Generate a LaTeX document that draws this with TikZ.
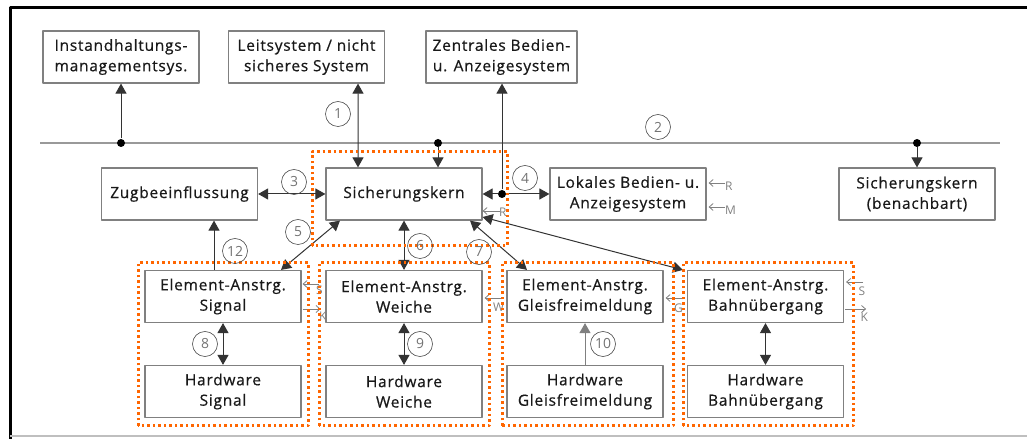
\documentclass[tikz,border=0pt]{standalone}
\usepackage{fontspec}
\setmainfont{Open Sans}
\newfontfamily\blockfont{Open Sans}[FakeBold=0.6,LetterSpace=5]
\usepackage{tikz}
\usetikzlibrary{arrows.meta,shapes}

\definecolor{zonecol}{rgb}{1.0,0.4,0.0}
\definecolor{boxcol}{rgb}{0.5,0.5,0.5}
\definecolor{tagcol}{rgb}{0.5,0.5,0.5}

\begin{document}
\begin{tikzpicture}[>={Triangle[length=10bp,width=11bp]},line join=bevel,
  block/.style={draw=boxcol,line width=1.2bp,minimum width=156bp,minimum height=52bp,inner sep=0pt,align=center,text=black!90,font=\blockfont\fontsize{15.5}{20.5}\selectfont},
  num/.style={draw=black!70,circle,line width=0.6bp,minimum size=25bp,inner sep=0pt,text=black!55,font=\fontsize{14}{14}\selectfont},
  zone/.style={draw=zonecol,line width=3bp,dash pattern=on 2.5bp off 3bp},
  link/.style={draw=black!80,line width=1bp},
  tag/.style={draw=tagcol,line width=0.8bp,-{Straight Barb[length=4bp,width=7bp]}},
  taglbl/.style={text=tagcol,inner sep=0pt,font=\fontsize{12}{12}\selectfont},
  bus/.style={draw=black!40,line width=2bp},
  hub/.style={circle,fill=black,inner sep=0pt,minimum size=8bp}]
  \pgfsetlinewidth{1bp}
  \useasboundingbox (0bp,0bp) rectangle (1027bp,439bp);
%%
  % Frame
  \draw[line width=3bp] (10bp,0bp) -- (10bp,431bp) -- (1027bp,431bp);
  \draw[black!25,line width=1.5bp] (10bp,3bp) -- (1027bp,3bp);
  % Node: inst
  \node[block] (inst) at (121bp,382bp) {Instandhaltungs-\\managementsys.};
  % Node: leit
  \node[block] (leit) at (306.5bp,382bp) {Leitsystem / nicht\\sicheres System};
  % Node: zentral
  \node[block,minimum width=151bp] (zentral) at (501.5bp,382bp) {Zentrales Bedien-\\u. Anzeigesystem};
  % Node: zug
  \node[block] (zug) at (179.5bp,245bp) {Zugbeeinflussung};
  % Node: sk
  \node[block] (sk) at (404bp,245bp) {Sicherungskern};
  % Node: lokal
  \node[block] (lokal) at (628bp,245bp) {Lokales Bedien- u.\\Anzeigesystem};
  % Node: nachbar
  \node[block] (nachbar) at (917bp,245bp) {Sicherungskern\\(benachbart)};
  % Node: esig, hsig
  \node[block] (esig) at (223bp,142.5bp) {Element-Anstrg.\\Signal};
  \node[block] (hsig) at (223bp,47.5bp) {Hardware\\Signal};
  % Node: eweiche, hweiche
  \node[block] (eweiche) at (404bp,142.5bp) {Element-Anstrg.\\Weiche};
  \node[block] (hweiche) at (404bp,47.5bp) {Hardware\\Weiche};
  % Node: egfm, hgfm
  \node[block] (egfm) at (585bp,142.5bp) {Element-Anstrg.\\Gleisfreimeldung};
  \node[block] (hgfm) at (585bp,47.5bp) {Hardware\\Gleisfreimeldung};
  % Node: ebue, hbue
  \node[block] (ebue) at (765.5bp,142.5bp) {Element-Anstrg.\\Bahnübergang};
  \node[block] (hbue) at (765.5bp,47.5bp) {Hardware\\Bahnübergang};
  % Bus
  \coordinate (busL) at (40bp,296bp);
  \coordinate (busR) at (1000bp,296bp);
  \draw[bus] (busL) -- (busR);
  \node[hub] (d1) at (121bp,296bp) {};
  \node[hub] (d2) at (438bp,296bp) {};
  \node[hub] (d3) at (917bp,296bp) {};
  \node[hub] (d4) at (502bp,245bp) {};
  % Edge: bus -> inst
  \draw[link,->] (d1) -- (inst.south);
  % Edge: leit <-> sk
  \draw[link,<->] ([xshift=51.5bp]leit.south) -- ([xshift=-46bp]sk.north);
  % Edge: bus -> sk
  \draw[link,->] (d2) -- (d2 |- sk.north);
  % Edge: bus -> nachbar
  \draw[link,->] (d3) -- (nachbar.north);
  % Edge: zug <-> sk
  \draw[link,<->] (zug.east) -- (sk.west);
  % Edge: d4 -> zentral, sk, lokal
  \draw[link,->] (d4) -- (d4 |- zentral.south);
  \draw[link,->] (d4) -- (sk.east);
  \draw[link,->] (d4) -- (lokal.west);
  % Edge: esig -> zug
  \draw[link,->] ([xshift=-9bp]esig.north) -- ([xshift=-9bp]esig.north |- zug.south);
  % Edge: esig <-> sk
  \draw[link,<->] ([xshift=58bp]esig.north) -- ([xshift=-64bp]sk.south);
  % Edge: sk <-> eweiche
  \draw[link,<->] (sk.south) -- (eweiche.north);
  % Edge: sk <-> egfm
  \draw[link,<->] ([xshift=66bp]sk.south) -- ([xshift=-58bp]egfm.north);
  % Edge: sk <-> ebue
  \draw[link,<->] ([yshift=-23bp]sk.east) -- ([xshift=-4bp]ebue.north west);
  % Edge: element <-> hardware
  \draw[link,<->] (esig.south) -- (hsig.north);
  \draw[link,<->] (eweiche.south) -- (hweiche.north);
  \draw[link,draw=black!50,->] (hgfm.north) -- (egfm.south);
  \draw[link,<->] (ebue.south) -- (hbue.north);
  % Tags
  \draw[tag] ([xshift=17bp,yshift=-17bp]sk.east) -- ([yshift=-17bp]sk.east);
  \node[taglbl,anchor=west] (tagR1) at ([xshift=16bp,yshift=-18bp]sk.east) {R};
  \draw[tag] ([xshift=18bp,yshift=11bp]lokal.east) -- ([xshift=2bp,yshift=11bp]lokal.east);
  \node[taglbl,anchor=west] (tagR2) at ([xshift=18bp,yshift=8bp]lokal.east) {R};
  \draw[tag] ([xshift=18bp,yshift=-13bp]lokal.east) -- ([xshift=2bp,yshift=-13bp]lokal.east);
  \node[taglbl,anchor=west] (tagM) at ([xshift=18bp,yshift=-16bp]lokal.east) {M};
  \draw[tag] ([xshift=17bp,yshift=12.5bp]esig.east) -- ([xshift=1bp,yshift=12.5bp]esig.east);
  \node[taglbl,anchor=west] (tagS1) at ([xshift=14bp,yshift=6bp]esig.east) {S};
  \draw[tag] ([xshift=1bp,yshift=-12.5bp]esig.east) -- ([xshift=19bp,yshift=-12.5bp]esig.east);
  \node[taglbl,anchor=west] (tagK1) at ([xshift=17bp,yshift=-20bp]esig.east) {K};
  \draw[tag] ([xshift=18bp,yshift=-1.5bp]eweiche.east) -- ([xshift=2bp,yshift=-1.5bp]eweiche.east);
  \node[taglbl,anchor=west] (tagW) at ([xshift=10bp,yshift=-11bp]eweiche.east) {W};
  \draw[tag] ([xshift=21bp,yshift=-1.5bp]egfm.east) -- ([xshift=2bp,yshift=-1.5bp]egfm.east);
  \node[taglbl,anchor=west] (tagG) at ([xshift=10bp,yshift=-12bp]egfm.east) {G};
  \draw[tag] ([xshift=19bp,yshift=14.5bp]ebue.east) -- ([xshift=2bp,yshift=14.5bp]ebue.east);
  \node[taglbl,anchor=west] (tagS2) at ([xshift=14bp,yshift=5bp]ebue.east) {S};
  \draw[tag] ([xshift=1bp,yshift=-12.5bp]ebue.east) -- ([xshift=22bp,yshift=-12.5bp]ebue.east);
  \node[taglbl,anchor=west] (tagK2) at ([xshift=16bp,yshift=-21bp]ebue.east) {K};
  % Zones
  \draw[zone] (312bp,193bp) rectangle (507bp,287bp);
  \draw[zone] (138bp,13bp) rectangle (308bp,176bp);
  \draw[zone] (319bp,13bp) rectangle (489bp,176bp);
  \draw[zone] (502bp,13bp) rectangle (673bp,176bp);
  \draw[zone] (683bp,13bp) rectangle (853bp,176bp);
  % Numbers
  \node[num] (n1) at (338bp,325bp) {1};
  \node[num] (n2) at (658bp,312bp) {2};
  \node[num] (n3) at (294bp,257bp) {3};
  \node[num] (n4) at (525bp,261bp) {4};
  \node[num] (n5) at (298bp,207bp) {5};
  \node[num] (n6) at (420bp,193bp) {6};
  \node[num] (n7) at (479bp,187bp) {7};
  \node[num] (n8) at (205bp,95bp) {8};
  \node[num] (n9) at (420bp,95bp) {9};
  \node[num] (n10) at (603bp,95bp) {10};
  \node[num] (n12) at (235bp,188bp) {12};
%
\end{tikzpicture}
\end{document}
